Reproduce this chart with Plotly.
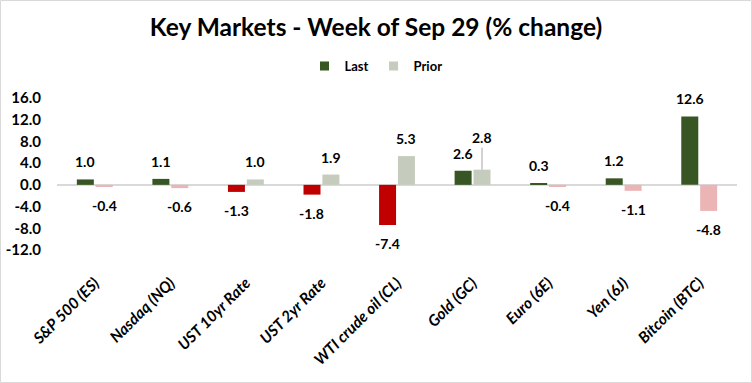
import plotly.graph_objects as go

categories = ["S&P 500 (ES)", "Nasdaq (NQ)", "UST 10yr Rate", "UST 2yr Rate",
              "WTI crude oil (CL)", "Gold (GC)", "Euro (6E)", "Yen (6J)", "Bitcoin (BTC)"]
last_values = [1.0, 1.1, -1.3, -1.8, -7.4, 2.6, 0.3, 1.2, 12.6]
prior_values = [-0.4, -0.6, 1.0, 1.9, 5.3, 2.8, -0.4, -1.1, -4.8]
y_ticks = [-12, -8, -4, 0, 4, 8, 12, 16]

GREEN = "#375623"
RED = "#C00000"
GREY_GREEN = "#C5CCBE"
PINK = "#EBB5B5"
FONT = "Lato"

W, H = 752, 383
ML, MR, MT, MB = 57, 15, 98, 133

fig = go.Figure()
fig.add_trace(go.Bar(
    x=categories, y=last_values, name="Last", showlegend=False,
    marker=dict(color=[GREEN if v >= 0 else RED for v in last_values], line=dict(width=0)),
))
fig.add_trace(go.Bar(
    x=categories, y=prior_values, name="Prior", showlegend=False,
    marker=dict(color=[GREY_GREEN if v >= 0 else PINK for v in prior_values], line=dict(width=0)),
))
# legend entries (scatter squares do not affect bar grouping)
for name, col in (("Last", GREEN), ("Prior", GREY_GREEN)):
    fig.add_trace(go.Scatter(
        x=[None], y=[None], mode="markers", name=name,
        marker=dict(symbol="square", size=9, color=col),
    ))

cat_px = (W - ML - MR) / len(categories)
half = cat_px * 0.5 / 4  # bar center offset from category center

annotations = []
for series, shift in ((last_values, -half), (prior_values, half)):
    for c, v in zip(categories, series):
        txt = f"{v:.1f}"
        if series is prior_values and c == "Gold (GC)":
            annotations.append(dict(
                x=c, y=v, xref="x", yref="y", text=txt, xshift=shift,
                showarrow=True, ax=0, ay=-32, arrowhead=0, arrowwidth=1,
                arrowcolor="#A6A6A6", standoff=0, startstandoff=0,
                font=dict(family=FONT, size=14, color="black", weight="bold"),
            ))
            continue
        annotations.append(dict(
            x=c, y=v, xref="x", yref="y", text=txt, xshift=shift,
            showarrow=False,
            yanchor="bottom" if v >= 0 else "top",
            yshift=7 if v >= 0 else -8,
            font=dict(family=FONT, size=14, color="black", weight="bold"),
        ))

fig.update_layout(
    width=W, height=H,
    margin=dict(l=ML, r=MR, t=MT, b=MB, autoexpand=False),
    paper_bgcolor="white", plot_bgcolor="white",
    barmode="group", bargap=0.5, bargroupgap=0.1,
    title=dict(
        text="Key Markets - Week of Sep 29 (% change)",
        font=dict(family=FONT, size=24.5, color="black", weight="bold"),
        x=0.5, xref="container", xanchor="center",
        y=1 - 27 / H, yref="container", yanchor="middle",
    ),
    legend=dict(
        orientation="h", x=0.5, xref="container", xanchor="center",
        y=1 - 66 / H, yref="container", yanchor="middle",
        font=dict(family=FONT, size=13, color="black", weight="bold"),
        itemwidth=30, tracegroupgap=0,
    ),
    xaxis=dict(
        type="category", showgrid=False, showline=False, ticks="",
        tickangle=-45, ticklabelstandoff=20,
        tickfont=dict(family=FONT, size=15.5, color="black", weight="bold", style="italic"),
    ),
    yaxis=dict(
        range=[-12, 16], tickvals=y_ticks, ticktext=[f"{t:.1f}" for t in y_ticks],
        showgrid=False, showline=False, ticks="",
        zeroline=True, zerolinecolor="#D9D9D9", zerolinewidth=1.5,
        ticklabelstandoff=15,
        tickfont=dict(family=FONT, size=15, color="black", weight="bold"),
    ),
    annotations=annotations,
    shapes=[dict(
        type="rect", xref="paper", yref="paper",
        x0=-(ML - 0.5) / (W - ML - MR), x1=1 + (MR - 0.5) / (W - ML - MR),
        y0=-(MB - 0.5) / (H - MT - MB), y1=1 + (MT - 0.5) / (H - MT - MB),
        line=dict(color="#D9D9D9", width=1), fillcolor="rgba(0,0,0,0)", layer="above",
    )],
)

fig.write_html(
    "out.html",
    config={"displayModeBar": False},
    post_script="document.body.style.margin='0';document.body.style.overflow='hidden';",
)
